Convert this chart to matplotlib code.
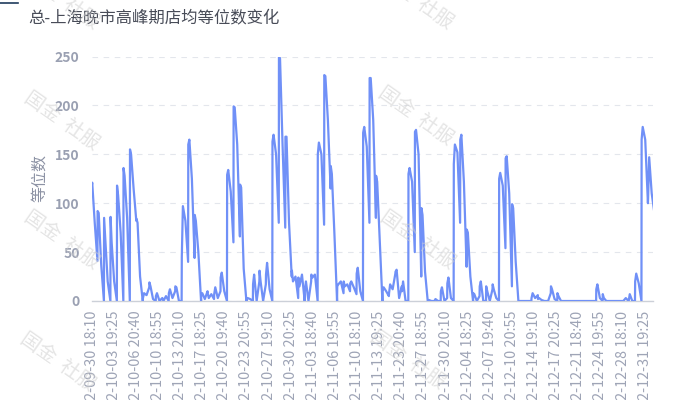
import matplotlib
matplotlib.use("Agg")
import matplotlib.pyplot as plt
from matplotlib.lines import Line2D
import pandas as pd

plt.rcParams["font.family"] = ["Noto Sans CJK SC", "DejaVu Sans"]

# Evenings with data (no records 2022-11-16 .. 2022-11-22)
dates = list(pd.date_range("2022-09-30", "2022-11-15")) + list(pd.date_range("2022-11-23", "2023-01-01"))

# Store-average queue length, read at four moments of each evening
q_1800 = [113, 92, 85, 86, 118, 136, 155, 84, 3, 19, 5, 3, 8, 15, 45, 160, 88, 5, 8, 7, 24,
          129, 199, 119, 2, 17, 31, 27, 163, 250, 168, 31, 24, 10, 27, 150, 231, 138, 15, 20,
          18, 28, 172, 228, 128, 10, 8,
          30, 10, 130, 173, 95, 0, 0, 10, 18, 140, 165, 73, 8, 15, 15, 17, 125, 146, 99, 0, 0,
          3, 2, 0, 15, 8, 0, 0, 0, 0, 0, 12, 7, 0, 0, 0, 0, 20, 165, 105]
q_1830 = [121, 90, 65, 60, 108, 128, 150, 80, 8, 15, 8, 0, 12, 14, 97, 165, 82, 8, 3, 14, 29,
          134, 198, 116, 3, 27, 20, 39, 170, 248, 168, 20, 15, 20, 24, 162, 230, 130, 17, 15,
          20, 34, 178, 228, 122, 14, 17,
          32, 20, 136, 175, 88, 1, 2, 14, 24, 160, 170, 70, 7, 20, 10, 12, 131, 148, 95, 0, 0,
          8, 3, 0, 12, 5, 0, 0, 0, 0, 0, 17, 3, 0, 0, 0, 7, 28, 178, 147]
q_1940 = [80, 37, 20, 20, 70, 85, 115, 25, 6, 2, 0, 5, 3, 0, 82, 125, 50, 2, 7, 3, 10,
          112, 160, 33, 2, 0, 0, 12, 150, 160, 80, 25, 27, 0, 27, 150, 185, 70, 20, 17,
          14, 10, 158, 185, 62, 10, 12,
          3, 0, 122, 150, 30, 0, 0, 0, 3, 152, 122, 25, 0, 0, 0, 3, 118, 110, 40, 0, 0,
          3, 1, 0, 2, 0, 0, 0, 0, 0, 0, 3, 0, 0, 0, 3, 0, 18, 165, 110]
q_2055 = [41, 0, 0, 0, 0, 0, 82, 0, 14, 0, 3, 0, 10, 0, 40, 44, 0, 10, 2, 10, 0,
          60, 66, 0, 0, 20, 17, 0, 80, 75, 25, 3, 0, 20, 0, 78, 115, 0, 8, 10,
          7, 0, 80, 85, 0, 5, 28,
          15, 0, 50, 25, 0, 0, 0, 3, 0, 80, 35, 0, 5, 0, 12, 0, 54, 15, 0, 0, 0,
          6, 0, 8, 0, 0, 0, 0, 0, 0, 0, 0, 0, 0, 0, 0, 0, 0, 100, 90]
sample_minutes = [18 * 60, 18 * 60 + 30, 19 * 60 + 40, 20 * 60 + 55]

x_tick_labels = [
    "2022-09-30 18:10", "2022-10-03 19:25", "2022-10-06 20:40", "2022-10-10 18:55",
    "2022-10-13 20:10", "2022-10-17 18:25", "2022-10-20 19:40", "2022-10-23 20:55",
    "2022-10-27 19:10", "2022-10-30 20:25", "2022-11-03 18:40", "2022-11-06 19:55",
    "2022-11-10 18:10", "2022-11-13 19:25", "2022-11-23 20:40", "2022-11-27 18:55",
    "2022-11-30 20:10", "2022-12-04 18:25", "2022-12-07 19:40", "2022-12-10 20:55",
    "2022-12-14 19:10", "2022-12-17 20:25", "2022-12-21 18:40", "2022-12-24 19:55",
    "2022-12-28 18:10", "2022-12-31 19:25",
]
axis_start = "2022-09-30 18:10"
axis_end = "2023-01-01 20:30"

title = "总-上海晚市高峰期店均等位数变化"
y_title = "等位数"
watermark = "国金  社服"

# 5-minute category axis over every evening (18:00 - 20:55)
slot_minutes = list(range(18 * 60, 21 * 60, 5))


def stamp(day, minute):
    return f"{day:%Y-%m-%d} {minute // 60:02d}:{minute % 60:02d}"


timeline = [stamp(d, m) for d in dates for m in slot_minutes]
origin = timeline.index(axis_start)
last = timeline.index(axis_end) - origin

xs, ys = [], []
for i, day in enumerate(dates):
    for m, series in zip(sample_minutes, (q_1800, q_1830, q_1940, q_2055)):
        xs.append(timeline.index(stamp(day, m)) - origin)
        ys.append(series[i])

W, H = 679, 400
fig = plt.figure(figsize=(W / 100, H / 100), dpi=100)
fig.patch.set_facecolor("white")

left, right, top, bottom = 91.5, 653.5, 56.5, 301.0
ax = fig.add_axes([left / W, 1 - bottom / H, (right - left) / W, (bottom - top) / H])

ax.plot(xs, ys, color="#7090f7", lw=1.6, solid_joinstyle="round", zorder=3, clip_on=True)

ax.set_xlim(0, last)
ax.set_ylim(0, 250)

ax.set_yticks(range(0, 251, 50))
ax.yaxis.grid(True, linestyle=(0, (5, 5)), color="#e3e6ec", lw=0.8)
ax.set_axisbelow(True)
ax.tick_params(axis="y", length=0, pad=8.5, labelsize=10, labelcolor="#9aa0b2")
for t in ax.get_yticklabels():
    t.set_fontweight("bold")

tick_pos = [timeline.index(lbl) - origin for lbl in x_tick_labels]
ax.set_xticks(tick_pos)
ax.set_xticklabels(x_tick_labels, rotation=90, fontsize=10.4, color="#9ea4b6")
ax.tick_params(axis="x", length=0, pad=7)

for side in ("top", "right", "left"):
    ax.spines[side].set_visible(False)
ax.spines["bottom"].set_color("#ccd0d8")
ax.spines["bottom"].set_linewidth(1.0)

fig.text(28 / W, 1 - 18 / H, title, ha="left", va="center", fontsize=11.8, color="#484c58")
fig.text(39 / W, 1 - 178 / H, y_title, rotation=90, ha="center", va="center",
         fontsize=11.5, color="#8c92a4")

fig.add_artist(Line2D([0, 18 / W], [1 - 2.5 / H, 1 - 2.5 / H], color="#1f3b5c", lw=1.2))

for cx, cy in [(62, 0), (62, 121), (62, 240), (58, 362),
               (416, 0), (416, 116), (418, 240), (408, 360)]:
    fig.text(cx / W, 1 - cy / H, watermark, rotation=-35, ha="center", va="center",
             rotation_mode="anchor", fontsize=14, color="#cfcfcf", alpha=0.55, zorder=10)

fig.savefig("out.png", dpi=100)
